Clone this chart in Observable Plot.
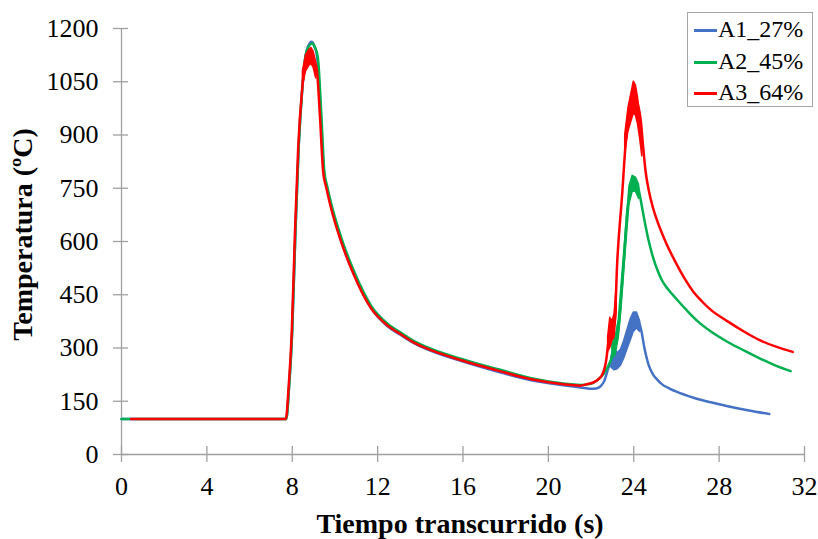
<!DOCTYPE html>
<html>
<head>
<meta charset="utf-8">
<script src="https://cdn.jsdelivr.net/npm/d3@7"></script>
<script src="https://cdn.jsdelivr.net/npm/@observablehq/plot@0.6"></script>
<style>
  body { margin: 0; background: #fff; }
  #chart { position: relative; width: 818px; height: 539px; font-family: "Liberation Serif", "Times New Roman", serif; }
  .legend { position: absolute; left: 687px; top: 12px; width: 126px; height: 95px; box-sizing: border-box; border: 1px solid #a6a6a6; background: #fff; }
  .legend .row { position: absolute; left: 6px; height: 28px; line-height: 28px; font-size: 24px; color: #000; white-space: nowrap; }
  .legend .sw { display: inline-block; width: 23px; height: 2.5px; vertical-align: middle; margin-right: 1px; position: relative; top: -1px; }
</style>
</head>
<body>
<div id="chart"></div>
<script>
// Axis ticks
const xTicks = [0, 4, 8, 12, 16, 20, 24, 28, 32];
const yTicks = [0, 150, 300, 450, 600, 750, 900, 1050, 1200];

// Series names and colours
const seriesNames = ["A1_27%", "A2_45%", "A3_64%"];
const seriesColors = ["#4472C4", "#00B050", "#FF0000"];

// A1_27% : time (s) and temperature (ºC)
const timeA1 = [0, 7.72, 7.85, 8.0, 8.15, 8.3, 8.47, 8.62, 8.76, 8.9, 9.04, 9.17, 9.33, 9.48, 9.62, 9.8, 10.25, 10.9, 11.7, 12.45, 13.1, 13.7, 14.5, 16.0, 17.6, 19.2, 20.7, 21.5, 22.1, 22.4, 22.6, 22.9, 23.07, 23.3, 23.4, 23.55, 23.7, 23.85, 24.05, 24.2, 24.35, 24.5, 24.7, 24.9, 25.1, 25.3, 25.7, 26.0, 26.8, 27.6, 28.4, 29.4, 30.35];
const tempA1 = [100, 100, 190, 350, 630, 866, 1030, 1122, 1152, 1163, 1150, 1118, 962, 798, 752, 705, 610, 506, 412, 362, 336, 314, 292, 262, 234, 209, 195, 189, 185, 190, 205, 255, 260, 262, 272, 295, 320, 345, 372, 378, 350, 300, 252, 226, 211, 199, 185, 177, 160, 147, 136, 124, 114];
// A1_27% : oscillation envelope around the second peak
const bandTimeA1 = [22.95, 23.1, 23.25, 23.4, 23.55, 23.7, 23.85, 24.0, 24.15, 24.3];
const bandLowA1 = [245, 237, 240, 250, 270, 295, 320, 345, 355, 345];
const bandHighA1 = [275, 300, 285, 295, 320, 350, 380, 400, 400, 375];

// A2_45%
const timeA2 = [0, 7.72, 7.85, 8.0, 8.15, 8.3, 8.47, 8.62, 8.78, 8.92, 9.06, 9.2, 9.36, 9.5, 9.64, 9.82, 10.28, 10.93, 11.73, 12.5, 13.15, 13.75, 14.55, 16.05, 17.65, 19.2, 20.7, 21.5, 22.0, 22.3, 22.6, 22.9, 23.07, 23.3, 23.54, 23.7, 23.85, 24.0, 24.15, 24.3, 24.5, 24.7, 24.9, 25.1, 25.3, 25.6, 26.0, 26.5, 27.0, 27.6, 28.4, 29.2, 29.9, 30.6, 31.35];
const tempA2 = [100, 100, 190, 350, 630, 866, 1030, 1122, 1150, 1158, 1148, 1118, 962, 800, 755, 708, 614, 511, 416, 367, 341, 318, 297, 267, 240, 215, 200, 196, 199, 210, 228, 262, 293, 360, 547, 688, 740, 772, 765, 725, 660, 602, 556, 521, 493, 466, 438, 405, 375, 347, 317, 292, 271, 252, 235];
const bandTimeA2 = [23.0, 23.15, 23.3, 23.8, 23.95, 24.1, 24.25];
const bandLowA2 = [270, 280, 330, 705, 740, 740, 720];
const bandHighA2 = [310, 330, 380, 755, 785, 780, 760];

// A3_64%
const timeA3 = [0.45, 7.7, 7.83, 7.98, 8.13, 8.28, 8.45, 8.6, 8.75, 8.88, 9.02, 9.15, 9.3, 9.45, 9.6, 9.78, 10.23, 10.88, 11.68, 12.45, 13.1, 13.7, 14.5, 16.0, 17.6, 19.2, 20.7, 21.5, 21.8, 22.2, 22.5, 22.7, 22.85, 23.0, 23.1, 23.23, 23.46, 23.62, 23.85, 24.05, 24.2, 24.32, 24.45, 24.55, 24.7, 24.9, 25.1, 25.5, 26.0, 26.4, 26.8, 27.2, 27.6, 28.4, 29.2, 29.9, 30.7, 31.45];
const tempA3 = [100, 100, 190, 350, 630, 866, 1020, 1095, 1115, 1125, 1112, 1085, 950, 795, 750, 703, 610, 507, 413, 364, 338, 315, 294, 264, 237, 212, 198, 194, 198, 206, 222, 262, 330, 345, 370, 547, 735, 876, 965, 1005, 985, 945, 860, 800, 745, 695, 658, 598, 537, 494, 458, 431, 408, 375, 345, 322, 303, 289];
// A3_64% : envelopes, one segment per noisy stretch
const bandSegA3 = ["p1", "p1", "p1", "p1", "p1", "p1", "s1", "s1", "s1", "s1", "s1", "p2", "p2", "p2", "p2", "p2", "p2", "p2", "p2"];
const bandTimeA3 = [8.5, 8.65, 8.8, 8.9, 9.0, 9.12, 22.8, 22.9, 23.0, 23.1, 23.2, 23.6, 23.75, 23.9, 24.0, 24.1, 24.2, 24.3, 24.4];
const bandLowA3 = [1040, 1080, 1095, 1100, 1090, 1060, 290, 300, 320, 330, 400, 850, 910, 940, 960, 955, 930, 890, 840];
const bandHighA3 = [1080, 1125, 1140, 1145, 1135, 1105, 330, 385, 375, 395, 470, 900, 975, 1020, 1050, 1040, 1005, 950, 880];

const axisGray = "#a0a0a0";
const serif = "'Times New Roman', 'Liberation Serif', serif";

const rows = (ts, vs) => ts.map((t, i) => ({t, v: vs[i]}));
const bandRows = (ts, lo, hi, seg) => ts.map((t, i) => ({t, lo: lo[i], hi: hi[i], seg: seg ? seg[i] : "a"}));

const lines = [
  {data: rows(timeA1, tempA1), band: bandRows(bandTimeA1, bandLowA1, bandHighA1), color: seriesColors[0]},
  {data: rows(timeA2, tempA2), band: bandRows(bandTimeA2, bandLowA2, bandHighA2), color: seriesColors[1]},
  {data: rows(timeA3, tempA3), band: bandRows(bandTimeA3, bandLowA3, bandHighA3, bandSegA3), color: seriesColors[2]}
];

const seriesMarks = lines.flatMap(s => [
  Plot.areaY(s.band, {x: "t", y1: "lo", y2: "hi", z: "seg", fill: s.color, stroke: s.color, strokeWidth: 1.5, curve: "linear"}),
  Plot.line(s.data, {x: "t", y: "v", stroke: s.color, strokeWidth: 2.5, strokeLinejoin: "round", curve: "monotone-x"})
]);

const chart = Plot.plot({
  width: 818,
  height: 539,
  marginLeft: 121,
  marginRight: 14,
  marginTop: 28,
  marginBottom: 85,
  style: {fontFamily: serif, fontSize: "26px", color: "#000", background: "#fff", overflow: "visible"},
  x: {domain: [0, 32]},
  y: {domain: [0, 1200]},
  marks: [
    Plot.ruleY([0], {stroke: axisGray, strokeWidth: 1.3}),
    Plot.ruleX([0], {stroke: axisGray, strokeWidth: 1.3}),
    Plot.axisX({ticks: xTicks, tickFormat: d => String(d), tickSize: 16, insetBottom: 8, tickPadding: 14, stroke: axisGray, strokeWidth: 1.3, label: null, fontSize: 26, fontFamily: serif, fontVariant: "normal"}),
    Plot.axisY({ticks: yTicks, tickFormat: d => String(d), tickSize: 15, insetLeft: 7, tickPadding: 15, stroke: axisGray, strokeWidth: 1.3, label: null, fontSize: 26, fontFamily: serif, fontVariant: "normal"}),
    ...seriesMarks,
    Plot.text(["Tiempo transcurrido (s)"], {text: d => d, frameAnchor: "bottom", textAnchor: "middle", dx: -3, dy: 70, fontWeight: "bold", fontSize: 28, fontFamily: serif, lineAnchor: "middle"}),
    Plot.text(["Temperatura (ºC)"], {text: d => d, frameAnchor: "left", textAnchor: "middle", rotate: -90, dx: -98, dy: -7, fontWeight: "bold", fontSize: 28, fontFamily: serif, lineAnchor: "middle"})
  ]
});

const root = document.getElementById("chart");
root.appendChild(chart);

// Legend box
const legend = document.createElement("div");
legend.className = "legend";
legend.style.fontFamily = serif;
const rowTops = [2, 34, 65];
seriesNames.forEach((name, i) => {
  const row = document.createElement("div");
  row.className = "row";
  row.style.top = rowTops[i] + "px";
  const sw = document.createElement("span");
  sw.className = "sw";
  sw.style.background = seriesColors[i];
  row.appendChild(sw);
  row.appendChild(document.createTextNode(name));
  legend.appendChild(row);
});
root.appendChild(legend);
</script>
</body>
</html>
